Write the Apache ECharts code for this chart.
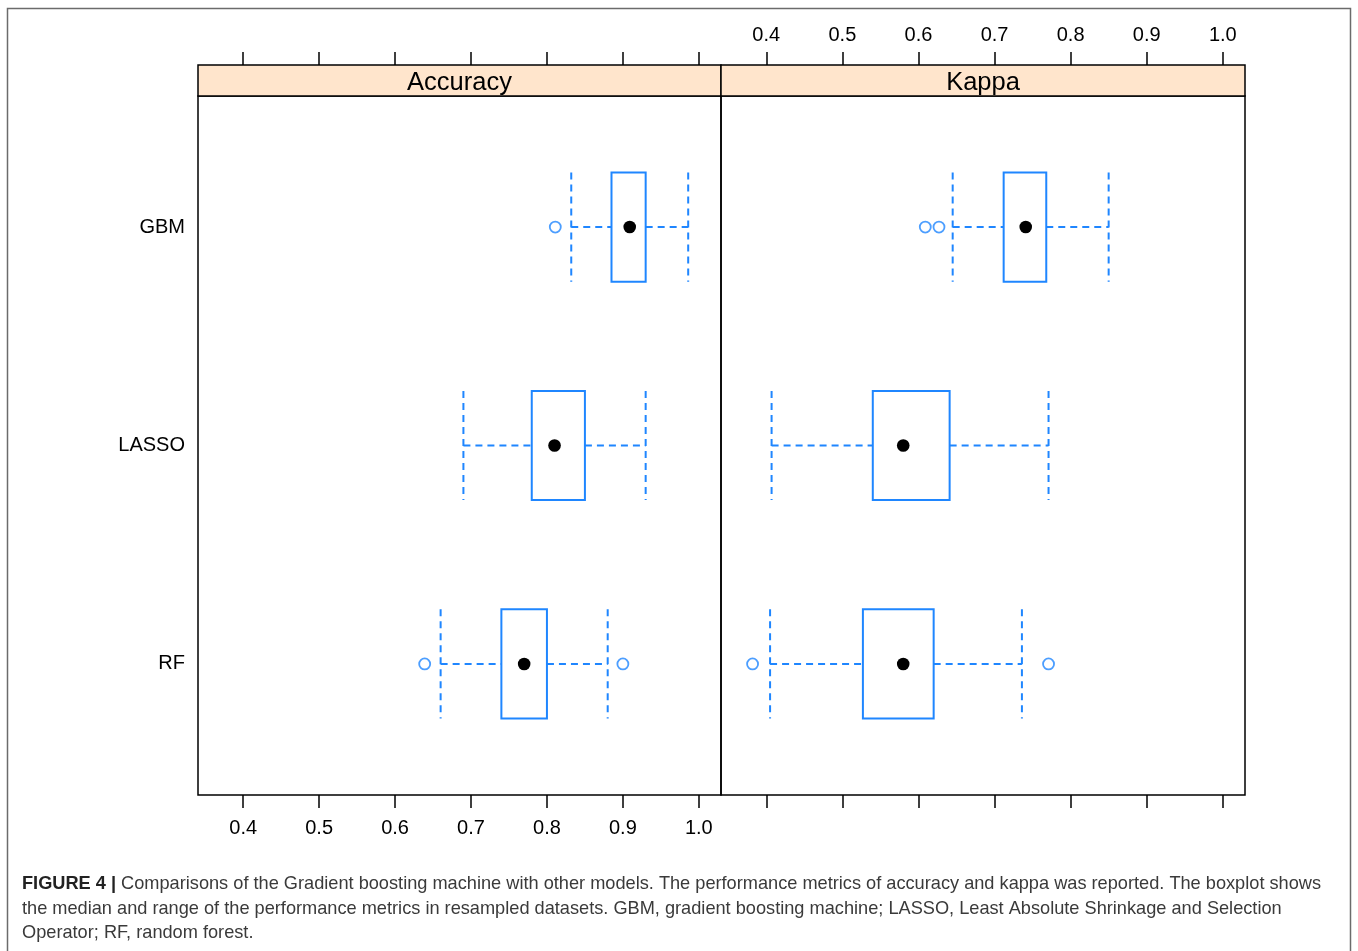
<!DOCTYPE html>
<html><head><meta charset="utf-8">
<script src="https://cdn.jsdelivr.net/npm/echarts@6/dist/echarts.min.js"></script>
<style>html,body{margin:0;padding:0;background:#fff}#c{width:1358px;height:951px}</style>
</head><body><div id="c"></div>
<script>
// ---------- data ----------
const models = ['GBM', 'LASSO', 'RF'];
const panels = ['Accuracy', 'Kappa'];
const tickValues = [0.4, 0.5, 0.6, 0.7, 0.8, 0.9, 1.0];
const tickLabels = ['0.4', '0.5', '0.6', '0.7', '0.8', '0.9', '1.0'];
// [lower whisker, Q1, median, Q3, upper whisker] per model (GBM, LASSO, RF)
const accuracyStats = [
  [0.832, 0.885, 0.909, 0.930, 0.986],
  [0.690, 0.780, 0.810, 0.850, 0.930],
  [0.660, 0.740, 0.770, 0.800, 0.880]
];
const kappaStats = [
  [0.645, 0.712, 0.741, 0.768, 0.850],
  [0.407, 0.540, 0.580, 0.641, 0.771],
  [0.405, 0.527, 0.580, 0.620, 0.736]
];
const accuracyOutliers = [['GBM', 0.811], ['RF', 0.639], ['RF', 0.900]];
const kappaOutliers = [['GBM', 0.609], ['GBM', 0.627], ['RF', 0.382], ['RF', 0.771]];
const captionBold = 'FIGURE 4 |';
const captionLines = [
  ' Comparisons of the Gradient boosting machine with other models. The performance metrics of accuracy and kappa was reported. The boxplot shows',
  'the median and range of the performance metrics in resampled datasets. GBM, gradient boosting machine; LASSO, Least Absolute Shrinkage and Selection',
  'Operator; RF, random forest.'
];

// ---------- layout / style ----------
const BLUE = '#1f86ff';
const XMIN = 0.3405, XMAX = 1.0292;
const YMIN = 0.4, YMAX = 3.6;
const G = [{left: 198, width: 523}, {left: 721, width: 524}];
const TOP = 96, HEIGHT = 699, STRIP = 31;
const FONT = '"Liberation Sans", Arial, Helvetica, sans-serif';

const yPos = m => models.length - models.indexOf(m);
const boxData = stats => stats.map((s, i) => s.concat([models.length - i]));
const outData = outs => outs.map(o => [o[1], yPos(o[0])]);

function renderBox(params, api) {
  const y = api.value(5);
  const lo = api.coord([api.value(0), y]);
  const q1 = api.coord([api.value(1), y]);
  const med = api.coord([api.value(2), y]);
  const q3 = api.coord([api.value(3), y]);
  const hi = api.coord([api.value(4), y]);
  const top = api.coord([api.value(0), y + 0.25])[1];
  const bot = api.coord([api.value(0), y - 0.25])[1];
  const cy = med[1];
  const dash = {stroke: BLUE, lineWidth: 2, lineDash: [7, 5], fill: null};
  return {type: 'group', children: [
    {type: 'line', shape: {x1: lo[0], y1: cy, x2: q1[0], y2: cy}, style: dash},
    {type: 'line', shape: {x1: q3[0], y1: cy, x2: hi[0], y2: cy}, style: dash},
    {type: 'line', shape: {x1: lo[0], y1: top, x2: lo[0], y2: bot}, style: dash},
    {type: 'line', shape: {x1: hi[0], y1: top, x2: hi[0], y2: bot}, style: dash},
    {type: 'rect', shape: {x: q1[0], y: top, width: q3[0] - q1[0], height: bot - top},
      style: {stroke: BLUE, lineWidth: 2, fill: '#fff'}},
    {type: 'circle', shape: {cx: med[0], cy: cy, r: 6.3}, style: {fill: '#000'}}
  ]};
}

function xAxis(grid, position, labels) {
  return {
    type: 'value', gridIndex: grid, position: position, min: XMIN, max: XMAX,
    offset: position === 'top' ? STRIP : 0,
    axisLine: {show: false},
    splitLine: {show: false},
    axisTick: {show: true, inside: false, length: 13, customValues: tickValues,
      lineStyle: {color: '#000', width: 1.5}},
    axisLabel: {show: labels, customValues: tickValues, fontSize: 20, color: '#000',
      fontFamily: FONT, margin: position === 'top' ? 20 : 23,
      formatter: v => { const i = tickValues.findIndex(t => Math.abs(t - v) < 1e-9); return i >= 0 ? tickLabels[i] : String(v); }}
  };
}
function yAxis(grid, labels) {
  return {
    type: 'value', gridIndex: grid, min: YMIN, max: YMAX,
    axisLine: {show: false}, axisTick: {show: false}, splitLine: {show: false},
    axisLabel: {show: labels, customValues: [1, 2, 3], fontSize: 20, color: '#000',
      fontFamily: FONT, margin: 13, formatter: v => models[models.length - Math.round(v)]}
  };
}

const graphics = [
  {type: 'rect', shape: {x: 7.5, y: 8.5, width: 1343, height: 1000},
    style: {fill: null, stroke: '#6b6b6b', lineWidth: 1.5}, z: 0}
];
G.forEach((g, i) => {
  graphics.push({type: 'rect', shape: {x: g.left, y: TOP - STRIP, width: g.width, height: STRIP},
    style: {fill: '#FFE5CC', stroke: '#000', lineWidth: 1.5}, z: 10});
  graphics.push({type: 'text', x: g.left + g.width / 2, y: TOP - STRIP / 2 + 2,
    style: {text: panels[i], fontSize: 25.5, fontFamily: FONT, fill: '#000', align: 'center', verticalAlign: 'middle'}, z: 11});
});
captionLines.forEach((t, i) => {
  graphics.push({type: 'text', x: 22, y: 884 + i * 24.5,
    style: {text: (i === 0 ? '{b|' + captionBold + '}' : '') + t, fontSize: 18.2, fontFamily: FONT, fill: '#3a3a3a',
      verticalAlign: 'middle',
      rich: {b: {fontWeight: 'bold', fontSize: 18.2, fontFamily: FONT, fill: '#222', verticalAlign: 'middle'}}}, z: 11});
});

const option = {
  animation: false,
  backgroundColor: '#fff',
  grid: G.map(g => ({left: g.left, width: g.width, top: TOP, height: HEIGHT, show: true,
    borderColor: '#000', borderWidth: 1.5, backgroundColor: 'transparent', containLabel: false})),
  xAxis: [xAxis(0, 'bottom', true), xAxis(0, 'top', false), xAxis(1, 'top', true), xAxis(1, 'bottom', false)],
  yAxis: [yAxis(0, true), yAxis(1, false)],
  series: [
    {type: 'custom', xAxisIndex: 0, yAxisIndex: 0, renderItem: renderBox, data: boxData(accuracyStats),
      encode: {x: [0, 1, 2, 3, 4], y: 5}, clip: false},
    {type: 'custom', xAxisIndex: 2, yAxisIndex: 1, renderItem: renderBox, data: boxData(kappaStats),
      encode: {x: [0, 1, 2, 3, 4], y: 5}, clip: false},
    {type: 'scatter', xAxisIndex: 0, yAxisIndex: 0, data: outData(accuracyOutliers), symbol: 'circle', symbolSize: 11,
      itemStyle: {color: '#fff', borderColor: BLUE, borderWidth: 1.8}},
    {type: 'scatter', xAxisIndex: 2, yAxisIndex: 1, data: outData(kappaOutliers), symbol: 'circle', symbolSize: 11,
      itemStyle: {color: '#fff', borderColor: BLUE, borderWidth: 1.8}}
  ],
  graphic: graphics
};
const chart = echarts.init(document.getElementById('c'), null, {renderer: 'canvas'});
chart.setOption(option);
</script></body></html>
